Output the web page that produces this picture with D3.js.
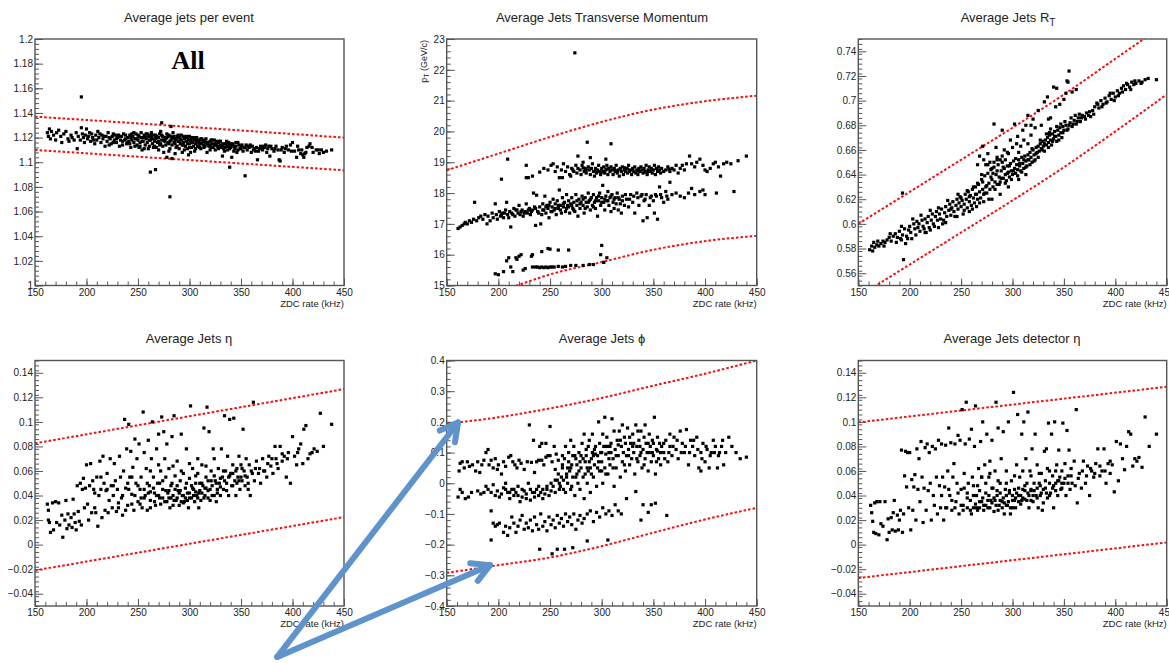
<!DOCTYPE html>
<html><head><meta charset="utf-8">
<script src="https://cdn.jsdelivr.net/npm/d3@7"></script>
<style>body{margin:0;background:#fff}svg{display:block}</style>
</head><body>
<svg id="c" width="1169" height="663"></svg>
<script>
// ---------- data ----------
const xTicks=[150,200,250,300,350,400,450];
const p1YTicks=[1,1.02,1.04,1.06,1.08,1.1,1.12,1.14,1.16,1.18,1.2];
const p2YTicks=[15,16,17,18,19,20,21,22,23];
const p3YTicks=[0.56,0.58,0.6,0.62,0.64,0.66,0.68,0.7,0.72,0.74];
const p4YTicks=[-0.04,-0.02,0,0.02,0.04,0.06,0.08,0.1,0.12,0.14];
const p5YTicks=[-0.4,-0.3,-0.2,-0.1,0,0.1,0.2,0.3,0.4];
const p6YTicks=[-0.04,-0.02,0,0.02,0.04,0.06,0.08,0.1,0.12,0.14];

const p1Upper=[[150,1.137],[250,1.1315],[350,1.1258],[450,1.1200]];
const p1Lower=[[150,1.110],[250,1.1045],[350,1.099],[450,1.0935]];
const p2Upper=[[150,18.74],[200,19.28],[250,19.82],[300,20.31],[350,20.71],[400,20.98],[450,21.16]];
const p2Lower=[[150,14.2],[218,15.0],[250,15.36],[300,15.76],[350,16.16],[400,16.44],[450,16.61]];
const p3Upper=[[150,0.600],[200,0.626],[250,0.652],[300,0.678],[350,0.705],[400,0.734],[450,0.763]];
const p3Lower=[[150,0.541],[200,0.567],[250,0.593],[300,0.619],[350,0.646],[400,0.675],[450,0.705]];
const p4Upper=[[150,0.0825],[300,0.1046],[450,0.1267]];
const p4Lower=[[150,-0.021],[300,0.0007],[450,0.0224]];
const p5Upper=[[150,0.194],[200,0.215],[250,0.244],[300,0.278],[350,0.318],[400,0.357],[450,0.400]];
const p5Lower=[[150,-0.292],[200,-0.267],[250,-0.242],[300,-0.205],[350,-0.161],[400,-0.118],[450,-0.080]];
const p6Upper=[[150,0.0996],[300,0.1141],[450,0.1286]];
const p6Lower=[[150,-0.0272],[300,-0.0127],[450,0.0018]];

const p1Points=[[162,1.124],[163,1.121],[164,1.127],[165,1.119],[166,1.125],[168,1.122],[170,1.118],[171,1.124],[173,1.126],[175,1.121],[176,1.116],[178,1.123],[180,1.125],[182,1.119],[183,1.117],[185,1.122],[186,1.12],[188,1.118],[190,1.124],[191,1.111],[192,1.121],[194,1.118],[195,1.128],[196,1.123],[197,1.12],[198,1.116],[199,1.122],[200,1.127],[201,1.119],[202,1.121],[204,1.117],[205,1.123],[206,1.12],[208,1.115],[209,1.122],[210,1.118],[211,1.125],[212,1.12],[214,1.116],[215,1.122],[216,1.119],[218,1.113],[219,1.121],[220,1.117],[221,1.124],[223,1.119],[224,1.115],[225,1.121],[227,1.118],[228,1.122],[229,1.116],[230,1.12],[232,1.113],[233,1.118],[234,1.121],[235,1.117],[236,1.123],[238,1.119],[239,1.115],[240,1.12],[241,1.117],[242,1.122],[243,1.112],[244,1.118],[245,1.121],[246,1.116],[247,1.119],[248,1.123],[249,1.114],[250,1.118],[251,1.121],[252,1.116],[253,1.12],[254,1.11],[255,1.117],[256,1.122],[257,1.114],[258,1.119],[259,1.116],[260,1.121],[261,1.113],[262,1.118],[263,1.12],[264,1.115],[265,1.122],[266,1.117],[267,1.119],[268,1.112],[269,1.116],[270,1.12],[271,1.123],[272,1.115],[273,1.118],[274,1.121],[275,1.108],[276,1.117],[277,1.114],[278,1.12],[279,1.116],[280,1.122],[281,1.111],[282,1.118],[283,1.114],[284,1.12],[285,1.116],[286,1.107],[287,1.119],[288,1.113],[289,1.117],[290,1.12],[291,1.115],[292,1.118],[293,1.108],[294,1.116],[295,1.119],[296,1.113],[297,1.117],[298,1.12],[299,1.106],[300,1.115],[301,1.118],[302,1.112],[303,1.116],[304,1.119],[305,1.109],[306,1.115],[307,1.117],[308,1.113],[309,1.116],[310,1.118],[311,1.111],[312,1.115],[314,1.117],[315,1.113],[316,1.116],[317,1.108],[318,1.114],[320,1.117],[321,1.112],[322,1.115],[324,1.118],[325,1.11],[326,1.114],[328,1.116],[329,1.112],[330,1.114],[332,1.105],[333,1.115],[334,1.112],[336,1.117],[337,1.11],[338,1.114],[340,1.112],[341,1.104],[342,1.115],[344,1.111],[345,1.113],[346,1.108],[348,1.114],[349,1.111],[350,1.113],[352,1.109],[353,1.112],[355,1.114],[356,1.11],[358,1.112],[360,1.108],[361,1.113],[363,1.111],[365,1.112],[366,1.102],[367,1.109],[369,1.113],[371,1.11],[373,1.112],[375,1.108],[377,1.113],[378,1.105],[380,1.111],[382,1.109],[384,1.113],[386,1.11],[387,1.102],[388,1.101],[390,1.112],[392,1.108],[394,1.113],[396,1.11],[398,1.114],[400,1.116],[402,1.109],[404,1.104],[406,1.11],[408,1.107],[410,1.106],[411,1.104],[413,1.108],[414,1.112],[416,1.113],[417,1.115],[420,1.108],[423,1.11],[426,1.107],[428,1.11],[430,1.108],[433,1.109],[438,1.11],
[222,1.12],[226,1.116],[231,1.122],[237,1.118],[243,1.12],[246,1.124],[249,1.119],[252,1.113],[255,1.12],[258,1.123],[261,1.118],[263,1.124],[266,1.113],[268,1.121],[270,1.117],[272,1.125],[274,1.113],[276,1.12],[278,1.123],[280,1.115],[282,1.121],[284,1.124],[286,1.115],[288,1.121],[290,1.111],[292,1.122],[294,1.114],[296,1.12],[298,1.115],[300,1.121],[302,1.119],[304,1.113],[306,1.12],[308,1.118],[310,1.112],[312,1.119],[314,1.114],[316,1.119],[318,1.116],[320,1.11],[322,1.118],[324,1.114],[326,1.117],[328,1.111],[330,1.117],[332,1.114],[334,1.109],[336,1.113],[338,1.116],[340,1.115],[343,1.113],[347,1.116],[351,1.114],[357,1.113],[362,1.11],[368,1.111],[372,1.113],[376,1.111],
[203,1.124],[207,1.118],[213,1.123],[217,1.121],[222,1.114],[226,1.123],[229,1.119],[232,1.121],[235,1.114],[238,1.122],[240,1.116],[242,1.115],[244,1.123],[247,1.113],[250,1.122],[251,1.112],[253,1.124],[254,1.117],[256,1.111],[257,1.12],[259,1.123],[260,1.111],[262,1.122],[264,1.119],[265,1.112],[267,1.122],[269,1.12],[270,1.11],[271,1.114],[273,1.122],[275,1.118],[277,1.119],[279,1.121],[280,1.109],[281,1.117],[283,1.119],[285,1.121],[286,1.118],[287,1.112],[289,1.122],[290,1.117],[291,1.119],[293,1.114],[294,1.121],[295,1.11],[297,1.121],[298,1.111],[299,1.118],[300,1.112],[301,1.108],[302,1.116],[303,1.12],[305,1.118],[306,1.111],[307,1.12],[309,1.113],[310,1.115],[311,1.119],[313,1.117],[314,1.112],[315,1.118],[317,1.115],[319,1.113],[320,1.114],[321,1.118],[323,1.112],[325,1.115],[327,1.113],[329,1.117],[331,1.112],[333,1.111],[335,1.115],[337,1.113],[339,1.111],[341,1.114],[343,1.109],[345,1.116],[347,1.11],[350,1.111],[354,1.112],[359,1.114],[364,1.109],[370,1.112],[374,1.114],[379,1.113],[383,1.111],[389,1.11],[393,1.111],[399,1.109],[405,1.113],[409,1.11],[412,1.107],[419,1.112],[425,1.11],
[195,1.153],[273,1.132],[282,1.129],[262,1.092],[267,1.094],[281,1.072],[339,1.096],[354,1.089],[283,1.103],[278,1.104]];

const p2Points=[[161,16.85],[163,16.9],[165,16.95],[167,17.0],[168,17.05],[170,17.0],[172,17.1],[174,17.05],[176,17.15],[177,17.7],[179,17.1],[181,17.2],[183,17.25],[185,17.15],[187,17.3],[189,17.0],[190,17.25],[192,17.1],[194,17.35],[195,17.2],[197,17.65],[198,17.3],[199,17.15],[201,17.4],[202,17.25],[204,17.35],[205,17.2],[207,17.45],[208,17.7],[209,17.3],[211,17.4],[212,16.9],[213,17.35],[215,17.5],[216,17.25],[217,17.45],[219,17.35],[220,17.6],[221,17.3],[223,17.45],[224,17.25],[226,17.4],[227,17.65],[228,17.35],[230,17.5],[231,17.3],[233,17.45],[234,18.0],[235,17.55],[236,16.95],[237,17.93],[238,17.4],[240,17.55],[241,17.0],[242,17.3],[243,17.65],[244,17.45],[245,17.9],[246,17.35],[247,17.6],[248,17.5],[249,17.2],[250,17.7],[251,17.4],[252,17.55],[253,17.8],[254,17.45],[255,17.65],[256,17.3],[257,17.75],[258,17.5],[259,18.1],[260,17.6],[261,17.35],[262,17.85],[263,17.55],[264,17.7],[265,17.4],[266,17.95],[267,17.6],[268,17.75],[269,17.35],[270,17.65],[271,17.85],[272,17.5],[273,17.7],[274,17.4],[275,17.95],[276,17.6],[277,17.25],[278,17.8],[279,17.5],[280,17.7],[281,17.9],[282,17.6],[283,17.35],[284,17.85],[285,17.7],[286,17.55],[287,18.0],[288,17.75],[289,17.45],[290,17.85],[291,17.6],[292,17.95],[293,17.7],[294,17.5],[295,17.85],[296,17.25],[297,17.75],[298,18.0],[299,17.6],[300,17.85],[301,18.25],[302,17.7],[303,17.45],[304,17.9],[305,17.75],[306,18.05],[307,17.6],[308,17.85],[309,17.4],[310,17.95],[311,17.7],[312,17.5],[313,17.85],[314,17.65],[315,18.0],[316,17.45],[317,17.8],[318,17.65],[319,17.35],[320,17.9],[322,17.6],[324,17.8],[326,17.55],[328,17.95],[330,17.7],[332,17.35],[334,18.0],[336,17.6],[338,17.9],[340,17.1],[341,17.75],[343,17.95],[344,17.2],[346,17.6],[348,17.9],[350,17.75],[351,17.35],[352,17.95],[354,17.15],[356,18.2],[358,17.85],[360,17.7],[362,18.05],[364,17.8],[366,18.35],[368,17.95],[372,18.0],[376,17.9],[380,17.85],[384,18.0],[387,18.15],[390,17.95],[395,18.05],[398,18.1],[400,17.95],[411,18.0],[428,18.05],
[203,17.3],[206,17.35],[210,17.2],[214,17.3],[218,17.45],[222,17.4],[225,17.35],[229,17.45],[232,17.4],[236,17.5],[239,17.35],[243,17.45],[246,17.55],[249,17.6],[252,17.4],[255,17.5],[258,17.6],[260,17.45],[263,17.65],[266,17.5],[268,17.55],[271,17.6],[273,17.45],[276,17.75],[279,17.65],[282,17.8],[284,17.5],[287,17.7],[289,17.8],[292,17.55],[294,17.75],[297,17.9],[300,17.7],[303,17.8],[306,17.75],[309,17.9],[312,17.8],[316,17.85],[320,17.75],[323,17.95],[327,17.8],[331,17.9],[335,17.85],[339,17.95],[342,17.8],[347,17.85],[353,17.9],[357,17.95],[363,17.9],
[227,18.9],[227,18.5],[229,18.5],[233,18.55],[240,18.68],[244,18.8],[248,18.75],[251,18.9],[253,18.95],[255,18.7],[257,18.85],[259,18.5],[261,18.75],[263,18.95],[265,18.7],[267,18.85],[269,18.6],[271,18.8],[273,18.7],[275,18.9],[276,18.65],[277,18.8],[279,18.75],[280,18.6],[281,18.9],[283,18.7],[284,18.8],[285,18.65],[287,18.85],[288,18.75],[289,18.6],[290,18.8],[291,18.95],[292,18.7],[293,18.55],[294,18.8],[295,18.65],[296,18.75],[297,18.9],[298,18.7],[299,18.6],[300,18.8],[301,18.7],[302,18.85],[303,18.65],[304,18.75],[305,18.9],[306,18.6],[307,18.8],[308,18.7],[309,18.85],[310,18.75],[311,18.6],[312,18.8],[313,18.7],[314,18.9],[315,18.65],[316,18.75],[317,18.55],[318,18.8],[319,18.7],[320,18.85],[321,18.6],[322,18.75],[323,18.7],[324,18.8],[325,18.65],[326,18.9],[327,18.7],[328,18.75],[329,18.6],[330,18.8],[331,18.7],[332,18.85],[333,18.65],[334,18.75],[335,18.6],[336,18.8],[337,18.7],[338,18.85],[339,18.75],[340,18.65],[341,18.8],[342,18.7],[343,18.9],[344,18.6],[345,18.75],[346,18.85],[347,18.7],[348,18.8],[349,18.65],[350,18.75],[351,18.9],[352,18.6],[353,18.8],[354,18.7],[355,18.85],[356,18.75],[357,18.65],[358,18.8],[360,18.7],[362,18.75],[364,18.85],[366,18.7],[368,18.8],[370,18.75],[372,18.9],[374,18.65],[376,18.8],[378,18.9],[380,18.75],[382,18.95],[385,19.2],[387,18.95],[390,18.85],[392,19.0],[395,19.1],[398,18.9],[400,18.75],[402,18.7],[405,18.8],[408,18.95],[410,19.0],[413,18.85],[415,18.55],[418,18.95],[421,19.0],[425,18.95],[432,19.05],[440,19.2],
[285,18.75],[295,18.7],[305,18.78],[315,18.72],[325,18.78],[335,18.72],[345,18.7],[355,18.72],[365,18.78],[272,18.75],[282,18.82],[302,18.68],[312,18.78],[322,18.82],[342,18.68],
[274,22.55],[286,19.65],[309,19.6],[277,19.2],[289,19.15],[209,19.1],[203,18.45],[304,19.1],[282,19.0],[262,18.5],[270,18.55],
[197,15.38],[200,15.35],[205,15.45],[208,15.8],[210,15.9],[212,15.6],[214,15.45],[217,15.9],[218,15.85],[220,15.95],[222,16.0],[224,15.5],[226,15.55],[232,15.95],[233,16.0],[233,15.6],[236,15.6],[238,15.6],[240,15.58],[242,15.6],[244,15.58],[246,15.6],[248,15.58],[250,15.6],[252,15.6],[254,15.6],[242,16.1],[248,16.2],[250,16.18],[258,16.15],[268,16.15],[258,15.62],[262,15.6],[265,15.62],[270,15.65],[275,15.65],[282,15.65],[288,15.68],[292,15.68],[299,16.0],[300,16.3],[302,15.75],[305,15.9]];

const p3Points=[[161,0.579],[163,0.582],[165,0.585],[166,0.581],[168,0.583],[170,0.582],[172,0.584],[174,0.586],[176,0.585],[178,0.587],[180,0.589],[182,0.586],[184,0.59],[186,0.592],[188,0.589],[190,0.594],[191,0.588],[193,0.591],[195,0.596],[196,0.584],[197,0.59],[199,0.595],[200,0.598],[201,0.593],[202,0.588],[204,0.6],[205,0.596],[207,0.602],[208,0.597],[209,0.6],[210,0.594],[212,0.603],[213,0.598],[215,0.604],[216,0.593],[217,0.601],[218,0.606],[219,0.597],[221,0.603],[222,0.608],[223,0.6],[225,0.606],[226,0.61],[227,0.603],[229,0.608],[230,0.604],[231,0.612],[232,0.6],[234,0.609],[235,0.614],[236,0.606],[238,0.611],[239,0.616],[240,0.607],[241,0.613],[242,0.618],[243,0.61],[245,0.615],[246,0.62],[247,0.612],[248,0.617],[249,0.622],[250,0.614],[251,0.619],[252,0.608],[253,0.616],[254,0.624],[255,0.62],[256,0.613],[257,0.626],[258,0.618],[259,0.623],[260,0.615],[261,0.628],[262,0.621],[263,0.617],[264,0.63],[265,0.624],[266,0.62],[267,0.632],[268,0.626],[269,0.621],[270,0.636],[271,0.628],[272,0.624],[273,0.639],[274,0.63],[275,0.625],[276,0.641],[277,0.633],[278,0.628],[279,0.644],[280,0.636],[281,0.63],[282,0.646],[283,0.634],[284,0.64],[285,0.632],[286,0.648],[287,0.638],[288,0.634],[289,0.643],[290,0.65],[291,0.637],[292,0.645],[293,0.64],[294,0.635],[295,0.647],[296,0.642],[297,0.638],[298,0.649],[299,0.643],[300,0.64],[301,0.651],[302,0.645],[303,0.641],[304,0.648],[305,0.644],[306,0.652],[307,0.647],[308,0.643],[309,0.654],[310,0.649],[311,0.645],[312,0.655],[313,0.651],[314,0.647],[315,0.656],[316,0.652],[317,0.658],[318,0.654],[319,0.65],[320,0.66],[321,0.656],[322,0.652],[323,0.662],[324,0.658],[325,0.663],[326,0.659],[327,0.665],[328,0.661],[329,0.667],[330,0.663],[331,0.659],[332,0.668],[333,0.664],[334,0.67],[335,0.666],[336,0.672],[337,0.668],[338,0.664],[339,0.673],[340,0.669],[341,0.675],[342,0.671],[343,0.667],[344,0.676],[345,0.672],[346,0.678],[347,0.674],[348,0.67],[349,0.679],[350,0.676],[352,0.68],[354,0.677],[356,0.682],[358,0.679],[360,0.684],[362,0.681],[364,0.686],[366,0.683],[368,0.688],[370,0.687],[372,0.69],[374,0.688],[376,0.687],[378,0.692],[380,0.695],[382,0.698],[384,0.694],[386,0.7],[388,0.697],[390,0.702],[392,0.699],[394,0.704],[396,0.701],[398,0.706],[400,0.703],[402,0.708],[404,0.706],[406,0.71],[408,0.712],[410,0.709],[412,0.713],[414,0.711],[416,0.715],[418,0.713],[420,0.714],[423,0.716],[426,0.715],[429,0.717],[432,0.718],[440,0.717],
[164,0.578],[169,0.586],[175,0.582],[181,0.592],[187,0.585],[192,0.598],[198,0.588],[203,0.604],[206,0.591],[211,0.607],[214,0.596],[220,0.611],[224,0.598],[228,0.613],[233,0.603],[237,0.619],[240,0.612],[244,0.606],[247,0.624],[250,0.621],[253,0.611],[256,0.627],[258,0.622],[261,0.612],[264,0.624],[266,0.633],[268,0.617],[271,0.634],[273,0.625],[275,0.631],[277,0.62],[279,0.638],[281,0.641],[283,0.628],[285,0.643],[287,0.632],[289,0.637],[291,0.646],[293,0.633],[295,0.641],[297,0.647],[299,0.636],[301,0.643],[303,0.653],[305,0.639],[307,0.649],[309,0.642],[311,0.652],[313,0.646],[315,0.652],[317,0.648],[319,0.661],[321,0.651],[323,0.657],[325,0.654],[327,0.668],[329,0.66],[331,0.665],[333,0.673],[335,0.662],[337,0.677],[339,0.667],[341,0.671],[343,0.679],[345,0.668],[347,0.681],[349,0.674],[351,0.683],[353,0.676],[355,0.68],[357,0.686],[359,0.681],[361,0.688],[363,0.683],[365,0.689],[367,0.686],[371,0.685],[375,0.691],[379,0.689],[383,0.697],[387,0.695],[391,0.698],[395,0.706],[399,0.7],[403,0.704],[407,0.707],[411,0.714],[415,0.709],[419,0.716],[425,0.714],
[215,0.593],[220,0.595],[228,0.597],[235,0.601],[246,0.606],[258,0.61],[265,0.614],[272,0.618],[280,0.62],[288,0.624],[296,0.63],[306,0.636],[313,0.64],[262,0.63],[270,0.64],[276,0.648],[282,0.65],[285,0.652],[290,0.655],[295,0.658],
[266,0.648],[268,0.655],[272,0.652],[276,0.657],[284,0.662],[293,0.652],[298,0.668],[304,0.665],
[282,0.681],[271,0.663],[290,0.676],[302,0.681],[308,0.663],[310,0.676],[315,0.688],[320,0.685],[325,0.692],[331,0.699],[334,0.703],[340,0.711],[343,0.71],[346,0.697],[350,0.701],[353,0.716],[355,0.724],[354,0.715],[358,0.707],[362,0.709],[315,0.665],[318,0.672],[322,0.678],[311,0.668],[306,0.658],[296,0.657],[292,0.66],[285,0.654],[278,0.65],[274,0.648],[280,0.645],[288,0.652],[300,0.662],[305,0.671],[313,0.68],[318,0.68],[335,0.685],[337,0.686],[328,0.68],[342,0.695],[336,0.674],[352,0.706],
[193,0.625],[194,0.571],[192,0.587]];

const p4Points=[[162,0.033],[163,0.028],[163,0.02],[164,0.018],[165,0.01],[167,0.034],[168,0.012],[170,0.035],[171,0.018],[173,0.034],[174,0.016],[176,0.024],[177,0.006],[179,0.02],[180,0.036],[181,0.013],[182,0.025],[183,0.016],[185,0.022],[186,0.014],[187,0.037],[188,0.025],[189,0.018],[190,0.012],[191,0.048],[192,0.027],[193,0.019],[194,0.05],[195,0.016],[196,0.045],[197,0.054],[198,0.03],[199,0.046],[200,0.065],[201,0.033],[202,0.02],[203,0.048],[204,0.066],[205,0.026],[206,0.052],[207,0.045],[208,0.03],[209,0.026],[210,0.055],[211,0.015],[212,0.04],[213,0.068],[214,0.045],[215,0.022],[216,0.072],[217,0.05],[218,0.028],[219,0.044],[220,0.058],[221,0.026],[222,0.036],[223,0.07],[224,0.048],[225,0.03],[226,0.04],[227,0.066],[228,0.052],[229,0.027],[230,0.045],[231,0.034],[232,0.072],[233,0.055],[234,0.038],[235,0.024],[236,0.06],[237,0.102],[238,0.046],[239,0.078],[240,0.032],[241,0.098],[242,0.055],[243,0.076],[244,0.041],[245,0.063],[246,0.028],[247,0.086],[248,0.05],[249,0.07],[250,0.035],[251,0.082],[252,0.045],[253,0.055],[254,0.03],[255,0.108],[256,0.075],[257,0.04],[258,0.062],[259,0.028],[260,0.085],[261,0.048],[262,0.036],[263,0.07],[264,0.1],[265,0.055],[266,0.042],[267,0.032],[268,0.078],[269,0.05],[270,0.09],[271,0.038],[272,0.06],[273,0.104],[274,0.045],[275,0.092],[276,0.035],[277,0.055],[278,0.082],[279,0.042],[280,0.062],[281,0.03],[282,0.048],[283,0.088],[284,0.04],[285,0.105],[286,0.056],[287,0.036],[288,0.068],[289,0.044],[290,0.032],[291,0.052],[292,0.09],[293,0.04],[294,0.058],[295,0.035],[296,0.046],[297,0.078],[298,0.042],[299,0.03],[300,0.054],[301,0.113],[302,0.038],[303,0.062],[304,0.045],[305,0.035],[306,0.05],[307,0.04],[308,0.058],[309,0.03],[310,0.044],[311,0.036],[312,0.065],[313,0.048],[314,0.095],[315,0.04],[316,0.055],[317,0.112],[318,0.044],[319,0.092],[320,0.036],[321,0.06],[322,0.048],[323,0.078],[324,0.04],[325,0.052],[326,0.035],[327,0.045],[328,0.062],[329,0.05],[330,0.04],[331,0.078],[332,0.055],[333,0.045],[334,0.105],[335,0.06],[336,0.05],[337,0.072],[338,0.04],[339,0.102],[340,0.058],[341,0.048],[342,0.065],[343,0.103],[344,0.052],[345,0.04],[346,0.062],[347,0.055],[348,0.072],[349,0.045],[350,0.065],[351,0.052],[352,0.094],[353,0.06],[354,0.048],[355,0.07],[356,0.055],[357,0.045],[358,0.065],[359,0.04],[360,0.06],[362,0.116],[363,0.052],[365,0.068],[367,0.058],[369,0.05],[371,0.07],[373,0.06],[375,0.055],[377,0.072],[379,0.064],[381,0.058],[383,0.08],[384,0.07],[386,0.062],[388,0.08],[390,0.068],[392,0.072],[394,0.055],[396,0.075],[398,0.05],[400,0.088],[402,0.072],[404,0.065],[406,0.078],[408,0.082],[410,0.066],[411,0.094],[413,0.097],[415,0.07],[417,0.074],[419,0.075],[421,0.078],[424,0.076],[427,0.107],[430,0.08],[438,0.098],
[252,0.033],[256,0.038],[260,0.042],[262,0.03],[266,0.035],[270,0.04],[272,0.033],[274,0.038],[278,0.035],[280,0.044],[282,0.038],[284,0.032],[286,0.045],[288,0.038],[290,0.042],[292,0.035],[294,0.04],[296,0.038],[298,0.036],[300,0.042],[302,0.048],[304,0.04],[306,0.043],[308,0.038],[310,0.05],[312,0.042],[314,0.038],[316,0.046],[318,0.052],[320,0.045],[322,0.04],[326,0.05],[330,0.047],[334,0.052],[338,0.055],[342,0.058],[346,0.05],[350,0.055],
[231,0.03],[235,0.04],[238,0.028],[241,0.045],[244,0.033],[247,0.04],[250,0.048],[253,0.038],[256,0.045],[259,0.05],[262,0.043],[265,0.046],[268,0.04],[271,0.05],[274,0.052],[277,0.044],[280,0.038],[283,0.05],[285,0.036],[288,0.048],[291,0.044],[294,0.034],[297,0.05],[300,0.038],[303,0.046],[306,0.056],[309,0.042],[312,0.05],[315,0.046],[318,0.038],[321,0.052],[324,0.056],[327,0.042],[330,0.054],[333,0.06],[336,0.044],[339,0.056],[342,0.048],[345,0.06],[348,0.052],[351,0.062],[354,0.056],[357,0.05],[361,0.058],[364,0.062],[368,0.062],[372,0.06],[376,0.066],[380,0.07],[385,0.066],[390,0.074],[395,0.07],[405,0.075],[262,0.06],[270,0.065],[276,0.07],[284,0.064],[292,0.06],[300,0.066],[308,0.07],[316,0.064],[324,0.07],[240,0.05],[244,0.055],[226,0.048],[220,0.045],[214,0.055],[208,0.042]];

const p5Points=[[162,0.04],[163,0.065],[165,0.07],[167,0.05],[170,0.07],[172,0.055],[175,0.06],[178,0.04],[180,0.07],[182,0.035],[184,0.06],[186,0.075],[188,0.1],[190,0.11],[191,0.06],[193,0.075],[195,0.05],[197,0.08],[199,0.045],[200,0.06],[203,0.03],[205,0.07],[207,0.055],[210,0.085],[212,0.09],[214,0.07],[216,0.06],[218,0.05],[220,0.075],[222,0.065],[225,0.045],[228,0.07],[230,0.19],[232,0.068],[234,0.14],[235,0.035],[237,0.07],[239,0.075],[240,0.12],[242,0.075],[244,0.06],[246,0.13],[248,0.09],[250,0.185],[252,0.07],[254,0.12],[256,0.095],
[161,-0.045],[163,-0.02],[165,-0.03],[168,-0.05],[171,-0.045],[174,-0.03],[180,-0.025],[183,-0.035],[186,-0.03],[188,-0.01],[190,-0.02],[193,-0.03],[195,-0.005],[197,-0.04],[199,-0.025],[201,-0.045],[203,-0.035],[205,-0.015],[207,0.0],[209,-0.03],[211,-0.05],[213,-0.02],[215,-0.04],[217,-0.03],[219,-0.01],[221,-0.06],[223,-0.045],[225,-0.025],[227,-0.035],[229,0.0],[231,-0.055],[233,-0.03],[235,-0.045],[237,-0.02],[239,-0.04],[241,-0.03],[243,-0.05],[245,-0.035],[247,-0.02],[249,-0.04],[251,-0.025],[253,-0.01],[255,-0.03],[257,0.01],[259,-0.02],[261,0.02],
[193,-0.09],[195,-0.13],[197,-0.14],[199,-0.135],[201,-0.13],[205,-0.16],[207,-0.14],[209,-0.17],[211,-0.145],[213,-0.11],[215,-0.13],[217,-0.16],[219,-0.14],[221,-0.12],[223,-0.105],[225,-0.15],[227,-0.13],[229,-0.145],[231,-0.12],[233,-0.155],[235,-0.11],[237,-0.135],[239,-0.15],[241,-0.1],[243,-0.14],[245,-0.125],[247,-0.155],[249,-0.11],[251,-0.135],[253,-0.12],[255,-0.145],[257,-0.105],[259,-0.13],[261,-0.115],[263,-0.14],[265,-0.1],[267,-0.125],[269,-0.11],[271,-0.135],[273,-0.1],[275,-0.15],[277,-0.12],[279,-0.105],[281,-0.13],[283,-0.115],[286,-0.1],[289,-0.09],[292,-0.125],[295,-0.095],[298,-0.11],[301,-0.08],[304,-0.1],[307,-0.09],[310,-0.105],[313,-0.07],[316,-0.09],[319,-0.1],[324,-0.05],[333,-0.027],[338,-0.12],[340,-0.07],[345,-0.095],[348,-0.07],[352,-0.065],[363,-0.105],
[193,-0.185],[240,-0.215],[252,-0.23],[257,-0.215],[264,-0.215],[272,-0.21],[286,-0.188],[306,-0.185],
[258,0.03],[260,-0.01],[262,0.05],[263,0.01],[264,0.08],[265,-0.03],[266,0.03],[267,0.0],[268,0.1],[269,0.04],[270,-0.02],[271,0.06],[272,0.02],[273,0.12],[274,-0.04],[275,0.08],[276,0.03],[277,0.0],[278,0.1],[279,-0.02],[280,0.05],[281,0.13],[282,0.02],[283,-0.05],[284,0.07],[285,0.11],[286,0.0],[287,0.04],[288,0.14],[289,-0.03],[290,0.08],[291,0.1],[292,0.02],[293,0.06],[294,0.12],[295,-0.01],[296,0.09],[297,0.2],[298,0.04],[299,0.1],[300,0.07],[301,0.0],[302,0.12],[303,0.05],[304,0.095],[305,0.15],[306,0.03],[307,0.1],[308,0.06],[309,0.13],[310,0.21],[311,0.08],[312,-0.01],[313,0.11],[314,0.05],[315,0.14],[316,0.09],[317,0.17],[318,0.02],[319,0.12],[320,0.07],[321,0.1],[322,0.15],[323,0.04],[324,0.09],[325,0.18],[326,0.11],[327,0.06],[328,0.13],[329,0.08],[330,0.16],[331,0.1],[332,0.03],[333,0.19],[334,0.12],[335,0.07],[336,0.14],[337,0.09],[338,0.17],[339,0.05],[340,0.11],[341,0.15],[342,0.08],[343,0.13],[344,0.1],[345,0.04],[346,0.16],[347,0.12],[348,0.07],[349,0.14],[350,0.09],[351,0.215],[352,0.03],[353,0.11],[354,0.15],[355,0.08],[356,0.13],[357,0.06],[358,0.12],[360,0.1],[362,0.14],[364,0.07],[366,0.12],[368,0.09],[370,0.15],[372,0.11],[374,0.08],[376,0.17],[378,0.13],[380,0.1],[382,0.175],[384,0.06],[386,0.14],[388,0.12],[390,0.09],[392,0.15],[394,0.05],[396,0.1],[398,0.13],[400,0.07],[402,0.11],[404,0.05],[406,0.1],[408,0.14],[410,0.12],[412,0.05],[414,0.1],[416,0.12],[418,0.06],[420,0.1],[423,0.15],[426,0.12],[430,0.1],[434,0.08],[440,0.085],[417,0.14],[413,0.09],[396,0.04],
[283,0.16],[287,0.12],[291,0.16],[294,0.095],[298,0.13],[301,0.16],[303,0.215],[306,0.12],[309,0.1],[312,0.17],[316,0.125],[320,0.19],[323,0.13],[327,0.15],[331,0.13],[335,0.17],[338,0.1],[342,0.19],[346,0.1],[350,0.13],[354,0.105],[360,0.13],[366,0.16],[272,0.09],[268,0.07],[276,0.06],[280,0.09],[284,0.03],[288,0.07],[292,0.09],[296,0.05],[300,0.1],[304,0.03],[308,0.12],[262,0.09],[265,0.12],[270,0.14],[258,0.075],[255,0.045],[250,0.09],[246,0.085],[242,0.13],
[262,0.06],[266,0.02],[270,0.05],[274,0.09],[278,0.04],[282,0.08],[286,0.05],[290,0.03],[293,0.11],[297,0.07],[300,0.04],[304,0.12],[307,0.08],[311,0.05],[314,0.09],[318,0.14],[322,0.06],[326,0.09],[330,0.12],[334,0.08],[337,0.12],[341,0.06],[345,0.13],[349,0.1],[353,0.07],[357,0.1],[361,0.08],[365,0.1],[369,0.12],[373,0.14],[377,0.1],[381,0.12],[385,0.1],[389,0.14],[393,0.11],[397,0.08],[401,0.12],[405,0.09],[409,0.1],[289,0.05],[285,0.09],[279,0.07],[275,0.02],[271,-0.01],[267,0.05],[263,-0.02],[259,0.0],[255,0.01],[251,0.0],[247,-0.01],[243,-0.02],[239,-0.01],[235,-0.03],[231,-0.02],[227,-0.05],[223,-0.02],[219,-0.04],[215,-0.02],[211,-0.03],[207,-0.02]];

const p6Points=[[162,0.032],[163,0.026],[164,0.019],[165,0.01],[166,0.034],[167,0.009],[168,0.035],[170,0.008],[171,0.035],[172,0.017],[174,0.015],[176,0.035],[178,0.004],[179,0.021],[180,0.01],[182,0.022],[183,0.012],[184,0.026],[185,0.036],[186,0.011],[188,0.024],[189,0.012],[190,0.02],[191,0.028],[192,0.077],[193,0.01],[194,0.025],[195,0.056],[196,0.076],[197,0.047],[198,0.075],[199,0.03],[200,0.075],[201,0.012],[202,0.053],[203,0.028],[204,0.047],[205,0.057],[206,0.02],[207,0.078],[208,0.045],[209,0.07],[210,0.035],[211,0.084],[212,0.055],[213,0.018],[214,0.046],[215,0.079],[216,0.028],[217,0.082],[218,0.044],[219,0.075],[220,0.05],[221,0.02],[222,0.08],[223,0.04],[224,0.032],[225,0.078],[226,0.055],[227,0.025],[228,0.085],[229,0.048],[230,0.03],[231,0.082],[232,0.055],[233,0.02],[234,0.047],[235,0.081],[236,0.03],[237,0.06],[238,0.095],[239,0.04],[240,0.083],[241,0.028],[242,0.055],[243,0.066],[244,0.082],[245,0.035],[246,0.05],[247,0.089],[248,0.025],[249,0.085],[250,0.045],[251,0.11],[252,0.032],[253,0.058],[254,0.082],[255,0.116],[256,0.038],[257,0.05],[258,0.086],[259,0.028],[260,0.094],[261,0.055],[262,0.04],[263,0.08],[264,0.113],[265,0.03],[266,0.048],[267,0.062],[268,0.035],[269,0.084],[270,0.055],[271,0.1],[272,0.032],[273,0.065],[274,0.042],[275,0.09],[276,0.03],[277,0.055],[278,0.068],[279,0.036],[280,0.085],[281,0.046],[282,0.027],[283,0.06],[284,0.116],[285,0.04],[286,0.095],[287,0.032],[288,0.05],[289,0.07],[290,0.035],[291,0.092],[292,0.025],[293,0.045],[294,0.06],[295,0.032],[296,0.1],[297,0.042],[298,0.025],[299,0.052],[300,0.036],[301,0.124],[302,0.045],[303,0.03],[304,0.065],[305,0.106],[306,0.04],[307,0.055],[308,0.033],[309,0.09],[310,0.045],[311,0.1],[312,0.037],[313,0.07],[314,0.05],[315,0.108],[316,0.03],[317,0.06],[318,0.044],[319,0.078],[320,0.035],[321,0.05],[322,0.09],[323,0.04],[324,0.065],[325,0.03],[326,0.05],[327,0.04],[328,0.058],[329,0.028],[330,0.045],[331,0.076],[332,0.052],[333,0.078],[334,0.038],[335,0.099],[336,0.06],[337,0.042],[338,0.09],[339,0.056],[340,0.03],[341,0.1],[342,0.05],[343,0.065],[344,0.04],[345,0.077],[346,0.055],[347,0.045],[348,0.06],[349,0.099],[350,0.05],[351,0.066],[352,0.04],[353,0.093],[354,0.056],[355,0.077],[356,0.045],[357,0.062],[358,0.05],[360,0.068],[362,0.11],[363,0.034],[365,0.058],[367,0.046],[369,0.068],[371,0.05],[373,0.064],[375,0.04],[377,0.06],[379,0.055],[381,0.066],[383,0.078],[385,0.056],[387,0.06],[389,0.078],[391,0.05],[393,0.066],[395,0.058],[397,0.065],[399,0.043],[401,0.084],[403,0.052],[405,0.082],[407,0.07],[409,0.061],[411,0.08],[413,0.092],[415,0.09],[417,0.064],[419,0.07],[421,0.068],[423,0.071],[426,0.063],[429,0.104],[433,0.08],[440,0.09],
[252,0.028],[256,0.03],[260,0.025],[262,0.03],[264,0.033],[266,0.028],[268,0.03],[270,0.035],[272,0.028],[274,0.032],[276,0.036],[278,0.03],[280,0.034],[282,0.038],[284,0.032],[286,0.028],[288,0.036],[290,0.03],[292,0.034],[294,0.04],[296,0.035],[298,0.03],[300,0.04],[302,0.036],[304,0.042],[306,0.035],[308,0.04],[310,0.038],[312,0.044],[314,0.036],[316,0.04],[318,0.045],[320,0.04],[324,0.046],[328,0.042],[332,0.046],[336,0.05],[340,0.048],[344,0.052],[348,0.05],
[231,0.04],[235,0.03],[238,0.045],[241,0.036],[244,0.03],[247,0.042],[250,0.032],[253,0.046],[256,0.042],[259,0.036],[262,0.048],[265,0.04],[268,0.044],[271,0.038],[274,0.05],[277,0.04],[280,0.046],[283,0.036],[285,0.044],[288,0.042],[291,0.038],[294,0.032],[297,0.044],[300,0.03],[303,0.038],[306,0.046],[309,0.036],[312,0.048],[315,0.042],[318,0.036],[321,0.044],[324,0.038],[327,0.048],[330,0.034],[333,0.042],[336,0.04],[339,0.046],[342,0.044],[345,0.052],[348,0.046],[351,0.054],[354,0.05],[357,0.056],[361,0.048],[364,0.054],[368,0.06],[372,0.056],[376,0.062],[380,0.058],[385,0.064],[390,0.06],[395,0.068],[270,0.055],[278,0.058],[286,0.052],[294,0.05],[302,0.056],[310,0.06],[318,0.056],[326,0.058],[334,0.062],[342,0.06]];

// annotation arrows, in the ϕ panel's data coordinates
const arrowStart=[-14,-0.566];
const arrowTips=[[161,0.198],[192,-0.267]];

// ---------- drawing ----------
const svg=d3.select('#c');
const FONT='"Liberation Sans", Arial, Helvetica, sans-serif';
const fmt=v=>String(+v.toFixed(3)).replace('-','\u2212');

const panels=[
 {t:'Average jets per event',x0:35,x1:344,y0:39,y1:285.5,yd:[1,1.2],yt:p1YTicks,ym:0.004,pts:p1Points,cv:[p1Upper,p1Lower],tx:189,ty:22},
 {t:'Average Jets Transverse Momentum',x0:446.7,x1:756.7,y0:39,y1:285.5,yd:[15,23],yt:p2YTicks,ym:0.2,pts:p2Points,cv:[p2Upper,p2Lower],tx:602,ty:22,ylab:true},
 {t:'Average Jets R',sub:'T',x0:858.3,x1:1166.7,y0:39,y1:285.5,yd:[0.55,0.75],yt:p3YTicks,ym:0.004,pts:p3Points,cv:[p3Upper,p3Lower],tx:1008,ty:22},
 {t:'Average Jets \u03b7',x0:35,x1:344,y0:360.5,y1:606,yd:[-0.05,0.15],yt:p4YTicks,ym:0.004,pts:p4Points,cv:[p4Upper,p4Lower],tx:189,ty:343},
 {t:'Average Jets \u03d5',x0:446.7,x1:756.7,y0:360.5,y1:606,yd:[-0.4,0.4],yt:p5YTicks,ym:0.02,pts:p5Points,cv:[p5Upper,p5Lower],tx:602,ty:343},
 {t:'Average Jets detector \u03b7',x0:858.3,x1:1166.7,y0:360.5,y1:606,yd:[-0.05,0.15],yt:p6YTicks,ym:0.004,pts:p6Points,cv:[p6Upper,p6Lower],tx:1012,ty:343}
];

const axisCol='#555';
let phiScales=null;
panels.forEach((p,i)=>{
  const x=d3.scaleLinear().domain([150,450]).range([p.x0,p.x1]);
  const y=d3.scaleLinear().domain(p.yd).range([p.y1,p.y0]);
  if(i===4) phiScales={x,y};
  const g=svg.append('g');
  const cid='clip'+i;
  svg.append('clipPath').attr('id',cid).append('rect')
    .attr('x',p.x0).attr('y',p.y0).attr('width',p.x1-p.x0).attr('height',p.y1-p.y0);

  const tt=g.append('text').attr('x',p.tx).attr('y',p.ty).attr('text-anchor','middle')
    .attr('font-family',FONT).attr('font-size',13).attr('fill','#222').text(p.t);
  if(p.sub) tt.append('tspan').attr('font-size',10).attr('dy',4).text(p.sub);

  const nY=Math.round((p.yd[1]-p.yd[0])/p.ym);
  const yMin=d3.range(nY+1).map(k=>p.yd[0]+k*p.ym);
  const xMin=d3.range(31).map(k=>150+k*10);
  const styleAxis=sel=>{sel.select('.domain').remove();sel.selectAll('line').attr('stroke',axisCol).attr('stroke-width',1);
    sel.selectAll('text').attr('fill','#222').attr('font-family',FONT).attr('font-size',10);};
  g.append('g').attr('transform',`translate(${p.x0},0)`).call(d3.axisLeft(y).tickValues(yMin).tickSize(-4).tickFormat('')).call(styleAxis);
  g.append('g').attr('transform',`translate(${p.x0},0)`).call(d3.axisLeft(y).tickValues(p.yt).tickSize(-8).tickPadding(2).tickFormat(fmt)).call(styleAxis);
  g.append('g').attr('transform',`translate(0,${p.y1})`).call(d3.axisBottom(x).tickValues(xMin).tickSize(-4).tickFormat('')).call(styleAxis);
  g.append('g').attr('transform',`translate(0,${p.y1})`).call(d3.axisBottom(x).tickValues(xTicks).tickSize(-7).tickPadding(3).tickFormat(d3.format('d'))).call(styleAxis);

  g.append('text').attr('x',p.x1).attr('y',p.y1+21).attr('text-anchor','end')
    .attr('font-family',FONT).attr('font-size',9.5).attr('fill','#222').text('ZDC rate (kHz)');
  if(p.ylab){
    const yl=g.append('text').attr('transform',`translate(${p.x0-20},${p.y0+1}) rotate(-90)`).attr('text-anchor','end')
      .attr('font-family',FONT).attr('font-size',9).attr('fill','#222');
    yl.append('tspan').text('p');
    yl.append('tspan').attr('font-size',7).attr('dy',2).text('T');
    yl.append('tspan').attr('dy',-2).text(' (GeV/c)');
  }

  const line=d3.line().x(d=>x(d[0])).y(d=>y(d[1])).curve(d3.curveMonotoneX);
  g.append('g').attr('clip-path',`url(#${cid})`).selectAll('path').data(p.cv).join('path')
    .attr('d',line).attr('fill','none').attr('stroke','#f01010').attr('stroke-width',2).attr('stroke-dasharray','2.6,2');

  g.append('g').attr('clip-path',`url(#${cid})`).selectAll('rect').data(p.pts).join('rect')
    .attr('x',d=>x(d[0])-1.6).attr('y',d=>y(d[1])-1.6).attr('width',3.2).attr('height',3.2).attr('fill','#000');

  g.append('rect').attr('x',p.x0).attr('y',p.y0).attr('width',p.x1-p.x0).attr('height',p.y1-p.y0)
    .attr('fill','none').attr('stroke',axisCol).attr('stroke-width',1.4);
});

svg.append('text').attr('x',188).attr('y',69).attr('text-anchor','middle')
  .attr('font-family','"Liberation Serif", "Times New Roman", serif').attr('font-weight','bold')
  .attr('font-size',26).attr('fill','#000').text('All');

const ag=svg.append('g').attr('stroke','#5f93cc').attr('fill','none').attr('stroke-width',6).attr('stroke-linecap','round').attr('stroke-linejoin','round');
const s=[phiScales.x(arrowStart[0]),phiScales.y(arrowStart[1])];
arrowTips.forEach(tp=>{
  const t=[phiScales.x(tp[0]),phiScales.y(tp[1])];
  ag.append('line').attr('x1',s[0]).attr('y1',s[1]).attr('x2',t[0]).attr('y2',t[1]);
  const ang=Math.atan2(s[1]-t[1],s[0]-t[0]);
  const L=20,a=0.5;
  const q1=[t[0]+L*Math.cos(ang+a),t[1]+L*Math.sin(ang+a)];
  const q2=[t[0]+L*Math.cos(ang-a),t[1]+L*Math.sin(ang-a)];
  ag.append('path').attr('d',`M${q1}L${t}L${q2}`);
});
</script>
</body></html>
